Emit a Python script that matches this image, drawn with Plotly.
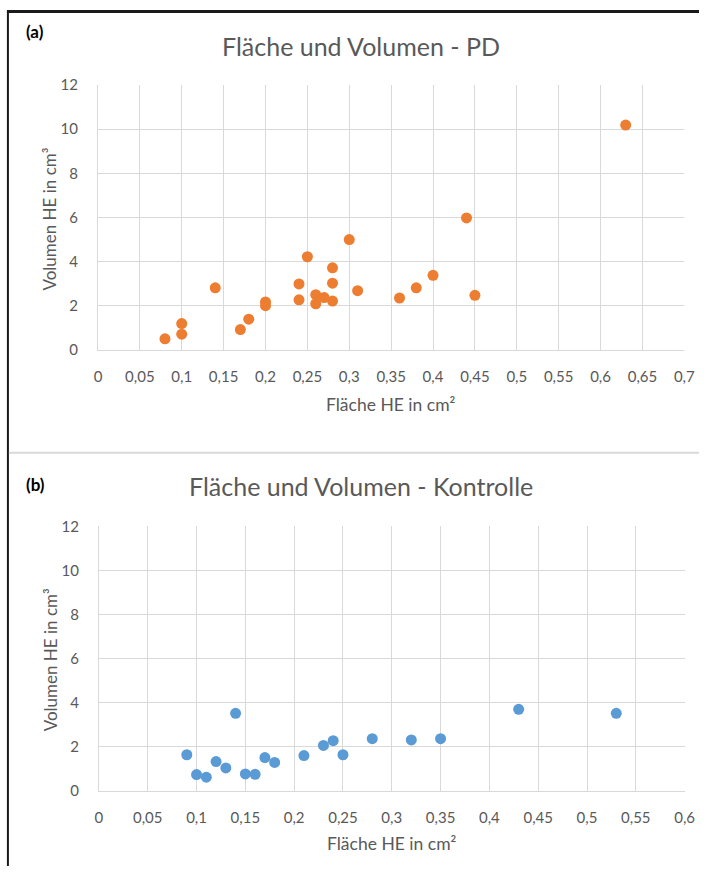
import plotly.graph_objects as go

# The page body keeps its default 8px margin, so the figure is drawn 8px smaller
# on every side and all positions below are given in page pixels.
PAGE_W, PAGE_H = 726, 890
OFF = 8
W, H = PAGE_W - 2 * OFF, PAGE_H - 2 * OFF

# Panel (a) PD
pd_area = [0.08, 0.10, 0.10, 0.14, 0.17, 0.18, 0.20, 0.20, 0.24, 0.24, 0.25, 0.26, 0.26,
           0.27, 0.28, 0.28, 0.28, 0.30, 0.31, 0.36, 0.38, 0.40, 0.44, 0.45, 0.63]
pd_volume = [0.50, 1.19, 0.71, 2.81, 0.92, 1.39, 2.17, 2.00, 2.99, 2.27, 4.22, 2.50, 2.09,
             2.37, 3.72, 3.02, 2.21, 5.00, 2.68, 2.35, 2.81, 3.38, 5.98, 2.47, 10.19]

# Panel (b) Kontrolle
ko_area = [0.09, 0.10, 0.11, 0.12, 0.13, 0.14, 0.15, 0.16, 0.17, 0.18, 0.21, 0.23, 0.24,
           0.25, 0.28, 0.32, 0.35, 0.43, 0.53]
ko_volume = [1.64, 0.74, 0.62, 1.33, 1.04, 3.52, 0.77, 0.75, 1.51, 1.29, 1.60, 2.06, 2.28,
             1.64, 2.37, 2.31, 2.37, 3.70, 3.52]

title_a = "Fläche und Volumen - PD"
title_b = "Fläche und Volumen - Kontrolle"
x_title = "Fläche HE in cm²"
y_title = "Volumen HE in cm³"

FONT = "Lato"
GRAY = "#595959"
GRID = "#d9d9d9"

def px(x):
    return (x - OFF) / W

def py(y):
    return 1 - (y - OFF) / H

fig = go.Figure()
fig.add_trace(go.Scatter(x=pd_area, y=pd_volume, mode="markers", xaxis="x", yaxis="y",
                         marker=dict(color="#ED7D31", size=11), showlegend=False))
fig.add_trace(go.Scatter(x=ko_area, y=ko_volume, mode="markers", xaxis="x2", yaxis="y2",
                         marker=dict(color="#5B9BD5", size=11), showlegend=False))

axis_common = dict(showgrid=True, gridcolor=GRID, gridwidth=1, zeroline=False,
                   showline=True, linecolor=GRID, linewidth=1,
                   tickfont=dict(family=FONT, size=15, color=GRAY), ticks="")

fig.update_layout(
    width=W, height=H, margin=dict(l=0, r=0, t=0, b=0),
    paper_bgcolor="white", plot_bgcolor="white",
    separators=", ",
    xaxis=dict(domain=[px(104), px(703)], range=[0, 0.7], dtick=0.05, tick0=0,
               anchor="y", ticklabelstandoff=13, **axis_common),
    yaxis=dict(domain=[py(355), py(84.7)], range=[0, 12], dtick=2,
               anchor="x", ticklabelstandoff=16, **axis_common),
    xaxis2=dict(domain=[px(105), px(703.3)], range=[0, 0.6], dtick=0.05, tick0=0,
                anchor="y2", ticklabelstandoff=13, **axis_common),
    yaxis2=dict(domain=[py(805.3), py(535.3)], range=[0, 12], dtick=2,
                anchor="x2", ticklabelstandoff=16, **axis_common),
)

ann = []
def text(x, y, t, size, color=GRAY, bold=False, angle=0):
    ann.append(dict(x=px(x), y=py(y), xref="paper", yref="paper", text=("<b>%s</b>" % t) if bold else t,
                    showarrow=False, xanchor="center", yanchor="middle", textangle=angle,
                    font=dict(family=FONT, size=size, color=color)))

text(40, 30, "(a)", 17, color="#000000", bold=True)
text(373, 45, title_a, 25)
text(403, 411, x_title, 17.5)
text(55, 222, y_title, 17, angle=-90)

text(40, 492, "(b)", 17, color="#000000", bold=True)
text(373, 494, title_b, 25)
text(404, 859, x_title, 17.5)
text(55, 672, y_title, 17, angle=-90)
fig.update_layout(annotations=ann)

shapes = [
    dict(type="line", xref="paper", yref="paper", x0=px(11), x1=1, y0=py(9.5), y1=py(9.5),
         line=dict(color="#1a1a1a", width=3)),
    dict(type="line", xref="paper", yref="paper", x0=px(12), x1=px(12), y0=py(9), y1=0,
         line=dict(color="#1a1a1a", width=2)),
    dict(type="line", xref="paper", yref="paper", x0=px(13), x1=1, y0=py(460), y1=py(460),
         line=dict(color="#d9d9d9", width=2)),
]
fig.update_layout(shapes=shapes)

fig.write_html("out.html")
